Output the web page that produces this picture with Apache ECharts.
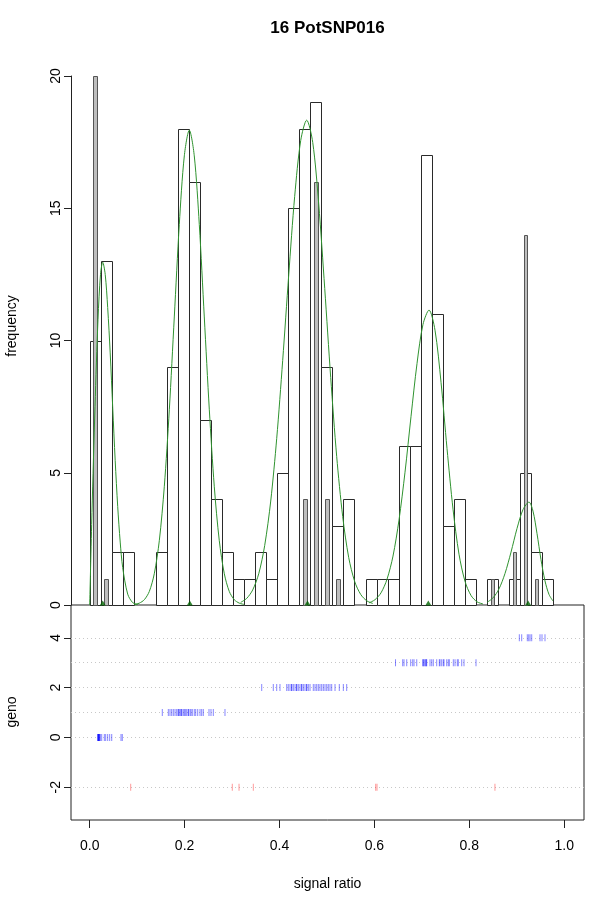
<!DOCTYPE html>
<html>
<head>
<meta charset="utf-8">
<script src="https://cdn.jsdelivr.net/npm/echarts@6/dist/echarts.min.js"></script>
<style>
  html, body { margin: 0; padding: 0; background: #fff; }
  #chart { width: 600px; height: 909px; }
</style>
</head>
<body>
<div id="chart"></div>
<script>
// histogram bins (signal ratio)
var binEdges = [0, 0.0233, 0.0465, 0.0698, 0.093, 0.1163, 0.1395, 0.1628, 0.186, 0.2093,
  0.2325, 0.2558, 0.279, 0.3023, 0.3255, 0.3488, 0.372, 0.3953, 0.4185, 0.4418,
  0.465, 0.4883, 0.5115, 0.5348, 0.558, 0.5813, 0.6045, 0.6278, 0.651, 0.6743,
  0.6975, 0.7208, 0.744, 0.7673, 0.7905, 0.8138, 0.837, 0.8603, 0.8835, 0.9068,
  0.93, 0.9533, 0.9765];
var sampleCounts = [10, 13, 2, 2, 0, 0, 2, 9, 18, 16, 7, 4, 2, 1, 1, 2, 1, 5, 15, 18,
  19, 9, 3, 4, 0, 1, 1, 1, 6, 6, 17, 11, 3, 4, 1, 0, 1, 0, 1, 5, 2, 1];
var refCounts = [20, 1, 0, 0, 0, 0, 0, 0, 0, 0, 0, 0, 0, 0, 0, 0, 0, 0, 0, 4,
  16, 4, 1, 0, 0, 0, 0, 0, 0, 0, 0, 0, 0, 0, 0, 0, 1, 0, 2, 14, 1, 0];

// fitted components (green curves)
var fit1 = [[0, 0], [0.0048, 3.5], [0.0112, 7.5], [0.0175, 10.8], [0.0228, 12.5], [0.0274, 12.96],
  [0.0327, 12.5], [0.0379, 11.25], [0.0432, 9.53], [0.0485, 7.47], [0.0537, 5.47], [0.059, 3.73],
  [0.0643, 2.38], [0.0695, 1.42], [0.0801, 0.41], [0.0906, 0.09], [0.1012, 0.015]];
var fit2 = [[0.094, 0.02], [0.1045, 0.07], [0.1151, 0.2], [0.1256, 0.51], [0.1361, 1.18],
  [0.1467, 2.43], [0.1572, 4.47], [0.1678, 7.38], [0.1783, 10.89], [0.1888, 14.38], [0.1994, 16.98],
  [0.2099, 17.95], [0.2204, 16.98], [0.231, 14.38], [0.2415, 10.89], [0.2521, 7.38], [0.2626, 4.47],
  [0.2731, 2.43], [0.2837, 1.18], [0.2942, 0.51], [0.3047, 0.2], [0.3153, 0.07], [0.3258, 0.02]];
var fit3 = [[0.3182, 0.1], [0.3309, 0.25], [0.3435, 0.57], [0.3562, 1.18], [0.3688, 2.25],
  [0.3815, 3.93], [0.3941, 6.29], [0.4067, 9.24], [0.4194, 12.47], [0.432, 15.45], [0.4447, 17.56],
  [0.4573, 18.33], [0.47, 17.49], [0.4826, 15.17], [0.4953, 11.97], [0.5079, 8.6], [0.5205, 5.62],
  [0.5332, 3.34], [0.5458, 1.8], [0.5585, 0.885], [0.5711, 0.4], [0.5838, 0.16], [0.5964, 0.06]];
var fit4 = [[0.5886, 0.08], [0.6012, 0.2], [0.6139, 0.46], [0.6265, 0.97], [0.6392, 1.85],
  [0.6518, 3.21], [0.6645, 5.02], [0.6771, 7.12], [0.6898, 9.13], [0.7024, 10.61], [0.7151, 11.15],
  [0.7277, 10.39], [0.7404, 8.42], [0.753, 5.92], [0.7657, 3.62], [0.7783, 1.92], [0.791, 0.89],
  [0.8036, 0.36], [0.8163, 0.12], [0.8289, 0.04]];
var fit5 = [[0.8373, 0.1], [0.85, 0.27], [0.8626, 0.61], [0.8752, 1.19], [0.8879, 2.0],
  [0.9005, 2.89], [0.9132, 3.61], [0.9258, 3.89], [0.9342, 3.55], [0.9426, 2.71], [0.951, 1.72],
  [0.9595, 0.91], [0.9679, 0.4], [0.9764, 0.15]];
var fitMeans = [0.0274, 0.211, 0.459, 0.7136, 0.924];

// genotype calls (bottom panel)
var geno4 = [0.9054, 0.9104, 0.9222, 0.9252, 0.928, 0.9315, 0.949, 0.9532, 0.9595];
var geno3 = [0.6445, 0.6596, 0.6624, 0.6681, 0.6765, 0.6807, 0.6835, 0.6892, 0.7018, 0.7031,
  0.7045, 0.7066, 0.7088, 0.7088, 0.7102, 0.7172, 0.7208, 0.7241, 0.7313, 0.7368, 0.7383,
  0.7418, 0.7452, 0.7467, 0.7524, 0.7557, 0.7579, 0.7663, 0.7699, 0.7747, 0.7768, 0.784,
  0.7888, 0.8141];
var geno2 = [0.3625, 0.3869, 0.3941, 0.401, 0.4152, 0.4185, 0.4221, 0.4257, 0.4257, 0.4291,
  0.4327, 0.4362, 0.4362, 0.4396, 0.4432, 0.4468, 0.4468, 0.4502, 0.4537, 0.4573, 0.4573,
  0.4607, 0.4643, 0.4712, 0.4748, 0.4784, 0.4818, 0.4853, 0.4889, 0.4923, 0.4959, 0.4995,
  0.5028, 0.5064, 0.51, 0.517, 0.526, 0.5345, 0.5416];
var geno1 = [0.153, 0.1657, 0.1692, 0.1728, 0.1762, 0.1798, 0.1834, 0.1867, 0.1867, 0.1903,
  0.1903, 0.1939, 0.1939, 0.1973, 0.2008, 0.2008, 0.2044, 0.2078, 0.2078, 0.2114, 0.2135,
  0.2162, 0.2204, 0.2234, 0.2276, 0.2325, 0.236, 0.2394, 0.2514, 0.2556, 0.2605, 0.2851];
var geno0 = [0.0169, 0.0175, 0.018, 0.0185, 0.019, 0.0196, 0.0205, 0.0217, 0.0217, 0.0253,
  0.0308, 0.0337, 0.0379, 0.0421, 0.0464, 0.066, 0.0687];
var genoFail = [0.0864, 0.3005, 0.3147, 0.3448, 0.6027, 0.6055, 0.854];
var genoLines = [4, 3, 2, 1, 0, -2];

var xTicks = [0, 0.2, 0.4, 0.6, 0.8, 1.0];
var genoTicks = [-2, 0, 2, 4];

var FONT = "'Liberation Sans', Arial, sans-serif";

function toPairs(xs, y) {
  return xs.map(function (x) { return [x, y]; });
}

var whiteBars = [];
var greyBars = [];
for (var i = 0; i < sampleCounts.length; i++) {
  if (sampleCounts[i] > 0) whiteBars.push([binEdges[i], binEdges[i + 1], sampleCounts[i]]);
  if (refCounts[i] > 0) {
    var w = (binEdges[i + 1] - binEdges[i]) / 3;
    greyBars.push([binEdges[i] + w, binEdges[i] + 2 * w, refCounts[i]]);
  }
}

function barRenderer(fill, stroke) {
  return function (params, api) {
    var p0 = api.coord([api.value(0), api.value(2)]);
    var p1 = api.coord([api.value(1), 0]);
    return {
      type: "rect",
      shape: {
        x: Math.round(p0[0]) + 0.5,
        y: Math.round(p0[1]) + 0.5,
        width: Math.round(p1[0]) - Math.round(p0[0]),
        height: Math.round(p1[1]) - Math.round(p0[1]),
      },
      style: { fill: fill, stroke: stroke, lineWidth: 1 },
    };
  };
}

function fitLine(data) {
  return {
    type: "line",
    xAxisIndex: 0,
    yAxisIndex: 0,
    data: data,
    smooth: 0.3,
    showSymbol: false,
    silent: true,
    lineStyle: { color: "#2f932f", width: 1 },
    z: 5,
  };
}

function genoTicksSeries(xs, y, color) {
  return {
    type: "scatter",
    xAxisIndex: 1,
    yAxisIndex: 1,
    data: toPairs(xs, y),
    symbol: "rect",
    symbolSize: [1, 7],
    silent: true,
    itemStyle: { color: color },
    z: 5,
  };
}

var xMin = -0.0394, xMax = 1.0417;

var option = {
  animation: false,
  backgroundColor: "#fff",
  textStyle: { fontFamily: FONT },
  grid: [
    { left: 71, top: 76, width: 513, height: 529 },
    { left: 71, top: 605, width: 513, height: 215, show: true, borderColor: "#222", borderWidth: 1, backgroundColor: "transparent" },
  ],
  xAxis: [
    { gridIndex: 0, type: "value", min: xMin, max: xMax, show: false },
    {
      gridIndex: 1, type: "value", min: xMin, max: xMax, position: "bottom",
      axisLine: { show: false, onZero: false },
      axisTick: { show: true, customValues: xTicks, length: 8, lineStyle: { color: "#222" } },
      axisLabel: {
        customValues: xTicks, margin: 19, fontSize: 14, color: "#000", fontFamily: FONT,
        formatter: function (v) { return v.toFixed(1); },
      },
      splitLine: { show: false },
    },
  ],
  yAxis: [
    {
      gridIndex: 0, type: "value", min: 0, max: 20, interval: 5, position: "left",
      axisLine: { show: true, onZero: false, lineStyle: { color: "#222" } },
      axisTick: { show: true, length: 7, lineStyle: { color: "#222" } },
      axisLabel: { rotate: 90, margin: 8, fontSize: 14, color: "#000", fontFamily: FONT },
      splitLine: { show: false },
    },
    {
      gridIndex: 1, type: "value", min: -3.32, max: 5.32, position: "left",
      axisLine: { show: false, onZero: false },
      axisTick: { show: true, customValues: genoTicks, length: 7, lineStyle: { color: "#222" } },
      axisLabel: { customValues: genoTicks, rotate: 90, margin: 8, fontSize: 14, color: "#000", fontFamily: FONT },
      splitLine: { show: false },
    },
  ],
  series: [
    {
      type: "custom",
      xAxisIndex: 0,
      yAxisIndex: 0,
      data: whiteBars,
      renderItem: barRenderer("#ffffff", "#2a2a2a"),
      silent: true,
      z: 2,
    },
    {
      type: "custom",
      xAxisIndex: 0,
      yAxisIndex: 0,
      data: greyBars,
      renderItem: barRenderer("#bebebe", "#555555"),
      silent: true,
      z: 3,
    },
    fitLine(fit1),
    fitLine(fit2),
    fitLine(fit3),
    fitLine(fit4),
    fitLine(fit5),
    {
      type: "scatter",
      xAxisIndex: 0,
      yAxisIndex: 0,
      data: toPairs(fitMeans, 0),
      symbol: "triangle",
      symbolSize: [6, 5],
      symbolOffset: [0, -2],
      silent: true,
      itemStyle: { color: "#006400" },
      z: 6,
    },
    {
      type: "line",
      xAxisIndex: 1,
      yAxisIndex: 1,
      data: [],
      silent: true,
      markLine: {
        silent: true,
        symbol: ["none", "none"],
        label: { show: false },
        lineStyle: { type: [1, 3], color: "#c8c8c8", width: 1 },
        data: genoLines.map(function (g) { return { yAxis: g }; }),
      },
    },
    genoTicksSeries(geno4, 4, "rgba(0,0,255,0.6)"),
    genoTicksSeries(geno3, 3, "rgba(0,0,255,0.6)"),
    genoTicksSeries(geno2, 2, "rgba(0,0,255,0.6)"),
    genoTicksSeries(geno1, 1, "rgba(0,0,255,0.6)"),
    genoTicksSeries(geno0, 0, "rgba(0,0,255,0.6)"),
    genoTicksSeries(genoFail, -2, "rgba(255,0,0,0.5)"),
  ],
  graphic: [
    {
      type: "text", x: 327.5, y: 28,
      style: { text: "16 PotSNP016", font: "bold 17px " + FONT, fill: "#000", textAlign: "center", textVerticalAlign: "middle" },
    },
    {
      type: "text", x: 12, y: 326, rotation: Math.PI / 2,
      style: { text: "frequency", font: "14px " + FONT, fill: "#000", textAlign: "center", textVerticalAlign: "middle" },
    },
    {
      type: "text", x: 12, y: 712, rotation: Math.PI / 2,
      style: { text: "geno", font: "14px " + FONT, fill: "#000", textAlign: "center", textVerticalAlign: "middle" },
    },
    {
      type: "text", x: 327.5, y: 884,
      style: { text: "signal ratio", font: "14px " + FONT, fill: "#000", textAlign: "center", textVerticalAlign: "middle" },
    },
  ],
};

var chartDom = document.getElementById("chart");
var myChart = echarts.init(chartDom, null, { renderer: "canvas" });
myChart.setOption(option);
</script>
</body>
</html>
